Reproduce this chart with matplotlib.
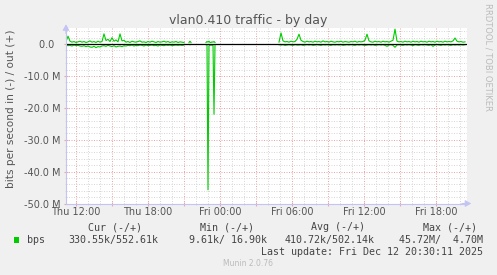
import numpy as np
import matplotlib
matplotlib.use("Agg")
import matplotlib.pyplot as plt
from matplotlib.ticker import FixedLocator, MultipleLocator, FixedFormatter
from matplotlib.patches import Rectangle

W, H = 497, 275

# ---------------- data (Mbit/s), hours counted from Thu 00:00 ----------------
seg_a_start, seg_a_step = 11 + 10 / 60, 10   # Thu 11:10, 10-minute samples
seg_a_out = [0.7, 2.5, 0.9, 0.6, 0.8, 0.5, 0.7, 0.9, 0.6, 0.8,
             0.5, 0.7, 1.0, 0.6, 0.8, 0.5, 0.9, 0.6, 0.8, 3.2,
             1.1, 1.5, 0.8, 2.0, 0.9, 1.3, 0.7, 3.2, 1.0, 1.2,
             0.6, 0.8, 0.5, 0.9, 0.7, 0.6, 0.8, 1.0, 0.6, 0.7,
             0.5, 0.8, 0.6, 0.9, 0.7, 0.5, 0.8, 0.6, 0.7, 0.9,
             0.6, 0.8, 0.5, 0.7, 0.6, 0.8, 0.5, 0.7, 0.6, 0.5]
seg_a_in = [-0.3, -0.5, -0.4, -0.6, -0.3, -0.5, -0.4, -0.6, -0.7, -0.5,
            -0.8, -0.6, -0.9, -1.0, -0.7, -1.1, -0.8, -0.9, -0.6, -0.5,
            -0.7, -0.4, -0.6, -0.8, -0.5, -0.9, -0.7, -0.6, -0.8, -0.5,
            -0.6, -0.4, -0.5, -0.3, -0.6, -0.4, -0.5, -0.3, -0.4, -0.6,
            -0.3, -0.5, -0.4, -0.3, -0.5, -0.4, -0.6, -0.3, -0.4, -0.5,
            -0.3, -0.4, -0.3, -0.5, -0.4, -0.3, -0.4, -0.3, -0.4, -0.3]

seg_i_start, seg_i_step = 21 + 25 / 60, 5     # Thu 21:25
seg_i_out = [0.5, 0.9, 0.5]
seg_i_in = [-0.1, -0.2, -0.1]

seg_b_start, seg_b_step = 22 + 50 / 60, 5     # Thu 22:50
seg_b_out = [0.5, 0.8, 0.6, 0.9, 0.5, 0.5, 0.7, 0.6, 0.8, 0.5]
seg_b_in = [-0.2, -0.3, -45.7, -0.5, -0.4, -0.3, -0.4, -0.3, -22.0, -0.3]

seg_c_start, seg_c_step = 28 + 55 / 60, 10    # Fri 04:55
seg_c_out = [0.6, 3.5, 1.0, 0.7, 0.8, 0.6, 0.9, 0.7, 0.8, 1.5,
             3.1, 1.2, 0.8, 0.6, 0.9, 0.7, 0.8, 0.6, 0.9, 0.7,
             0.8, 0.6, 1.0, 0.7, 0.8, 0.6, 0.9, 0.7, 0.6, 0.8,
             0.7, 0.9, 0.6, 0.8, 0.7, 0.6, 0.8, 0.7, 0.9, 0.6,
             0.8, 0.7, 0.8, 1.2, 3.1, 1.0, 0.7, 0.6, 0.9, 0.7,
             0.8, 0.6, 0.9, 0.7, 0.8, 0.6, 0.9, 1.2, 4.7, 0.9,
             0.7, 0.8, 0.6, 0.9, 0.7, 0.8, 0.6, 0.9, 0.7, 0.8,
             0.6, 0.9, 0.7, 0.8, 0.6, 0.9, 0.7, 0.8, 0.6, 0.9,
             0.7, 0.8, 0.6, 0.9, 0.7, 0.8, 0.7, 1.0, 1.9, 0.9,
             0.7, 0.8, 0.6, 0.7]
seg_c_in = [-0.2, -0.3, -0.2, -0.4, -0.3, -0.2, -0.3, -0.4, -0.2, -0.3,
            -0.3, -0.2, -0.4, -0.3, -0.2, -0.3, -0.2, -0.4, -0.3, -0.2,
            -0.3, -0.4, -0.2, -0.3, -0.2, -0.3, -0.4, -0.2, -0.3, -0.2,
            -0.3, -0.2, -0.4, -0.3, -0.2, -0.3, -0.2, -0.3, -0.4, -0.2,
            -0.3, -0.2, -0.3, -0.4, -0.3, -0.2, -0.3, -0.2, -0.4, -0.3,
            -0.2, -0.3, -0.2, -0.4, -0.7, -0.3, -0.2, -0.4, -1.0, -0.3,
            -0.2, -0.3, -0.4, -0.2, -0.3, -0.2, -0.3, -0.5, -0.2, -0.3,
            -0.4, -0.2, -0.3, -0.2, -0.3, -0.4, -0.2, -0.7, -0.3, -0.2,
            -0.3, -0.4, -0.2, -0.3, -0.2, -0.3, -0.4, -0.2, -0.3, -0.2,
            -0.3, -0.2, -0.3, -0.2]

segments = [
    (seg_a_start, seg_a_step, seg_a_out, seg_a_in),
    (seg_i_start, seg_i_step, seg_i_out, seg_i_in),
    (seg_b_start, seg_b_step, seg_b_out, seg_b_in),
    (seg_c_start, seg_c_step, seg_c_out, seg_c_in),
]

x_start, x_end = 11 + 10 / 60, 44 + 35 / 60          # graph window (Thu 11:10 .. Fri 20:35)
y_min, y_max = -50.0, 5.2

tick_hours = [12, 18, 24, 30, 36, 42]
tick_labels = ["Thu 12:00", "Thu 18:00", "Fri 00:00", "Fri 06:00", "Fri 12:00", "Fri 18:00"]
ytick_values = [0, -10, -20, -30, -40, -50]
ytick_labels = ["0.0  ", "-10.0 M", "-20.0 M", "-30.0 M", "-40.0 M", "-50.0 M"]

title = "vlan0.410 traffic - by day"
ylabel = "bits per second in (-) / out (+)"
legend_name = "bps"
legend_headers = ["Cur (-/+)", "Min (-/+)", "Avg (-/+)", "Max (-/+)"]
legend_values = ["330.55k/552.61k", "9.61k/ 16.90k", "410.72k/502.14k", "45.72M/  4.70M"]
last_update = "Last update: Fri Dec 12 20:30:11 2025"
footer = "Munin 2.0.76"
side_text = "RRDTOOL / TOBI OETIKER"

# ---------------- styling ----------------
BG = "#F0F0F0"
GREEN = "#00CC00"
AXIS = "#C4C4F4"
MINOR = "#D8D8D8"
MAJOR = "#E8A8A8"
TXT = "#555555"

fig = plt.figure(figsize=(W / 100, H / 100), dpi=100, facecolor=BG)
ax_l, ax_r, ax_t, ax_b = 66, 467, 27.5, 203.5
ax = fig.add_axes([ax_l / W, 1 - ax_b / H, (ax_r - ax_l) / W, (ax_b - ax_t) / H])
ax.set_facecolor("white")

for start, step, out_vals, in_vals in segments:
    t = start + np.arange(len(out_vals)) * step / 60.0
    ax.plot(t, np.array(out_vals) * 1e6, color=GREEN, lw=0.8, zorder=3)
    ax.plot(t, np.array(in_vals) * 1e6, color=GREEN, lw=0.8, zorder=3)

ax.axhline(0, color="black", lw=0.9, zorder=4)

ax.set_xlim(x_start, x_end)
ax.set_ylim(y_min * 1e6, y_max * 1e6)

# x ticks: red grid every 3 h, gray every hour, labels every 6 h
major_x = list(range(12, 45, 3))
ax.xaxis.set_major_locator(FixedLocator(major_x))
lab_map = dict(zip(tick_hours, tick_labels))
ax.xaxis.set_major_formatter(FixedFormatter([lab_map.get(h, "") for h in major_x]))
ax.xaxis.set_minor_locator(MultipleLocator(1))

ax.yaxis.set_major_locator(FixedLocator([v * 1e6 for v in ytick_values]))
ax.yaxis.set_major_formatter(FixedFormatter(ytick_labels))
ax.yaxis.set_minor_locator(MultipleLocator(2e6))

ax.grid(which="major", color=MAJOR, lw=0.72, linestyle=(0, (1, 1.5)), zorder=1)
ax.grid(which="minor", color=MINOR, lw=0.72, linestyle=(0, (1, 1.5)), zorder=1)

ax.tick_params(which="both", labelsize=7, labelcolor=TXT)
ax.tick_params(axis="x", which="major", direction="inout", length=3, color=MAJOR, pad=1.2)
ax.tick_params(axis="x", which="minor", direction="inout", length=2, color=MINOR)
ax.tick_params(axis="y", which="major", direction="inout", length=3, color=MAJOR, pad=2.2)
ax.tick_params(axis="y", which="minor", direction="inout", length=2, color=MINOR)

for s in ["top", "right"]:
    ax.spines[s].set_visible(False)
for s in ["left", "bottom"]:
    ax.spines[s].set_color(AXIS)
    ax.spines[s].set_linewidth(0.8)
    ax.spines[s].set_zorder(5)

ax.annotate("", xy=(0, 1 + 6 / (ax_b - ax_t)), xytext=(0, 0.95), xycoords="axes fraction",
            arrowprops=dict(arrowstyle="-|>,head_length=0.35,head_width=0.2", color=AXIS, lw=0.8))
ax.annotate("", xy=(1 + 7 / (ax_r - ax_l), 0), xytext=(0.98, 0), xycoords="axes fraction",
            arrowprops=dict(arrowstyle="-|>,head_length=0.35,head_width=0.2", color=AXIS, lw=0.8))


def fx(px):
    return px / W


def fy(py):
    return 1 - py / H


fig.text(fx(11), fy(109), ylabel, rotation=90, ha="center", va="center",
         fontsize=7.6, color=TXT)

fig.text(fx(248.5), fy(24), title, ha="center", va="baseline", fontsize=9, color=TXT)

fig.text(fx(488), fy(57), side_text, rotation=270, ha="center", va="center",
         fontsize=6, color="#BBBBBB")

MONO = "DejaVu Sans Mono"
LS = 7.2
header_right = [142.3, 254, 365, 476.7]
value_right = [158.3, 266.7, 375, 483.3]
for hx, htxt in zip(header_right, legend_headers):
    fig.text(fx(hx), fy(227.3), htxt, ha="right", va="center", fontsize=LS,
             family=MONO, color="#444444")
fig.patches.append(Rectangle((fx(14), fy(242.7)), 5.3 / W, 5.3 / H, transform=fig.transFigure,
                             facecolor=GREEN, edgecolor="none"))
fig.text(fx(26.7), fy(240), legend_name, ha="left", va="center", fontsize=LS,
         family=MONO, color="#444444")
for vx, vtxt in zip(value_right, legend_values):
    fig.text(fx(vx), fy(240), vtxt, ha="right", va="center", fontsize=LS,
             family=MONO, color="#444444")
fig.text(fx(483.3), fy(251.7), last_update, ha="right", va="center", fontsize=LS,
         family=MONO, color="#444444")
fig.text(fx(248), fy(264), footer, ha="center", va="center", fontsize=5.5, color="#BBBBBB")

fig.savefig("out.png", dpi=100, facecolor=BG)
